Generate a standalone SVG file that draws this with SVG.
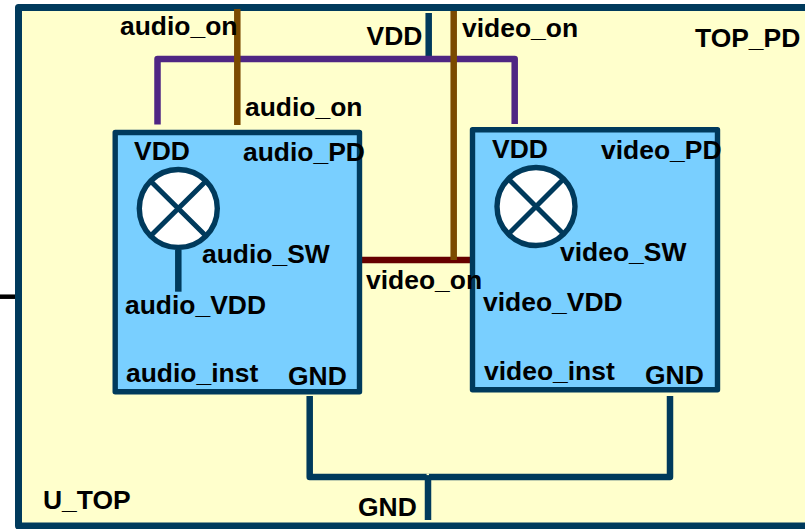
<svg xmlns="http://www.w3.org/2000/svg" width="805" height="529" viewBox="0 0 805 529">
<style>
text{font-family:"Liberation Sans",Arial,sans-serif;font-weight:700;font-size:26.45px;fill:#000}
.box{stroke:#003a5c;stroke-linejoin:round}
.inst{fill:#79cfff;stroke-width:5.4}
.w{fill:none;stroke-width:6.5;stroke-linejoin:round}
.sw{fill:#fff;stroke:#003a5c;stroke-width:5.4}
.pwr{stroke:#4f2683}.ctl{stroke:#7b4a00}.net{stroke:#003a5c}.iso{stroke:#660000}
</style>
<g id="top">
<rect class="box" x="18.5" y="7.5" width="800" height="518.5" fill="#ffffcc" stroke-width="7"/>
<path d="M0 296.7H15" stroke="#000" stroke-width="4.5" fill="none"/>
<text x="695" y="47">TOP_PD</text>
<text x="43" y="509">U_TOP</text>
</g>
<g id="connectors">
<path class="w net" d="M428.7 13V60"/>
<path class="w pwr" d="M157.5 124.5V59H514.7V124"/>
<path class="w ctl" d="M237.3 9V125"/>
<path class="w iso" d="M360 260H472"/>
<path class="w ctl" d="M453.7 11V260"/>
<path class="w net" d="M309.7 396V477H670V396"/>
<path class="w net" d="M428 477V520"/>
<rect x="426.6" y="473.5" width="2.4" height="1.6" fill="#ffffcc"/>
</g>
<g id="audio_inst">
<rect class="box inst" x="115.2" y="132.5" width="244.3" height="259.3"/>
<circle class="sw" cx="178.3" cy="208.5" r="39"/>
<path class="net" d="M151 181.5L205.5 235.5M205.5 181.5L151 235.5" fill="none" stroke-width="5"/>
<path class="w net" d="M178.3 250V291.7"/>
<text x="134" y="160">VDD</text>
<text x="243" y="161">audio_PD</text>
<text x="202" y="263">audio_SW</text>
<text x="125" y="314">audio_VDD</text>
<text x="126" y="382">audio_inst</text>
<text x="288" y="385">GND</text>
</g>
<g id="video_inst">
<rect class="box inst" x="472.5" y="129.8" width="245" height="260"/>
<circle class="sw" cx="536" cy="206.5" r="39"/>
<path class="net" d="M509 179.5L563 233.5M563 179.5L509 233.5" fill="none" stroke-width="5"/>
<text x="492" y="158">VDD</text>
<text x="601" y="159">video_PD</text>
<text x="560" y="261">video_SW</text>
<text x="483" y="311">video_VDD</text>
<text x="484" y="380">video_inst</text>
<text x="645" y="384">GND</text>
</g>
<g id="labels">
<text x="120" y="35">audio_on</text>
<text x="245" y="116">audio_on</text>
<text x="366.5" y="45">VDD</text>
<text x="462" y="37">video_on</text>
<text x="366" y="289">video_on</text>
<text x="358" y="516">GND</text>
</g>
</svg>
